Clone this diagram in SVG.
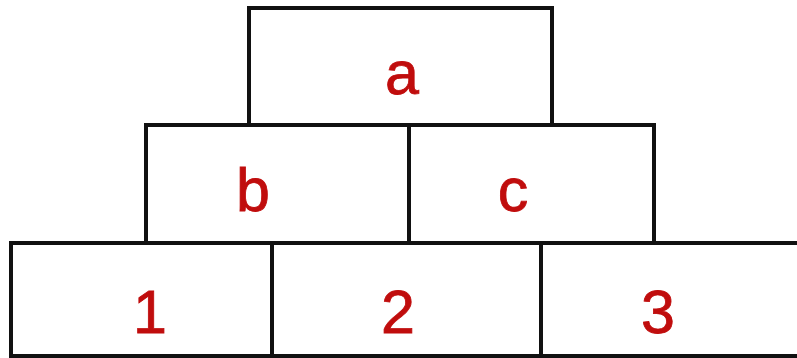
<svg xmlns="http://www.w3.org/2000/svg" width="797" height="358" viewBox="0 0 797 358">
<style>
.box{fill:#fff;stroke:#111;stroke-width:4}
.lbl{font-family:"Liberation Sans",Arial,sans-serif;font-size:61px;fill:#c00d0d;stroke:#c00d0d;stroke-width:0.8;text-anchor:middle}
</style>
<rect x="0" y="0" width="797" height="358" fill="#fff"/>
<g id="node-a"><rect class="box" x="249" y="8" width="303" height="117"/><text class="lbl" x="402" y="94">a</text></g>
<g id="node-b"><rect class="box" x="146" y="125" width="263" height="118"/><text class="lbl" x="253" y="211">b</text></g>
<g id="node-c"><rect class="box" x="409" y="125" width="245" height="118"/><text class="lbl" x="513" y="211">c</text></g>
<g id="node-1"><rect class="box" x="11" y="243" width="261" height="113"/><text class="lbl" x="150" y="333">1</text></g>
<g id="node-2"><rect class="box" x="272" y="243" width="269" height="113"/><text class="lbl" x="398" y="333">2</text></g>
<g id="node-3"><rect class="box" x="541" y="243" width="270" height="113"/><text class="lbl" x="658" y="333">3</text></g>
<g id="connectors"></g>
</svg>
